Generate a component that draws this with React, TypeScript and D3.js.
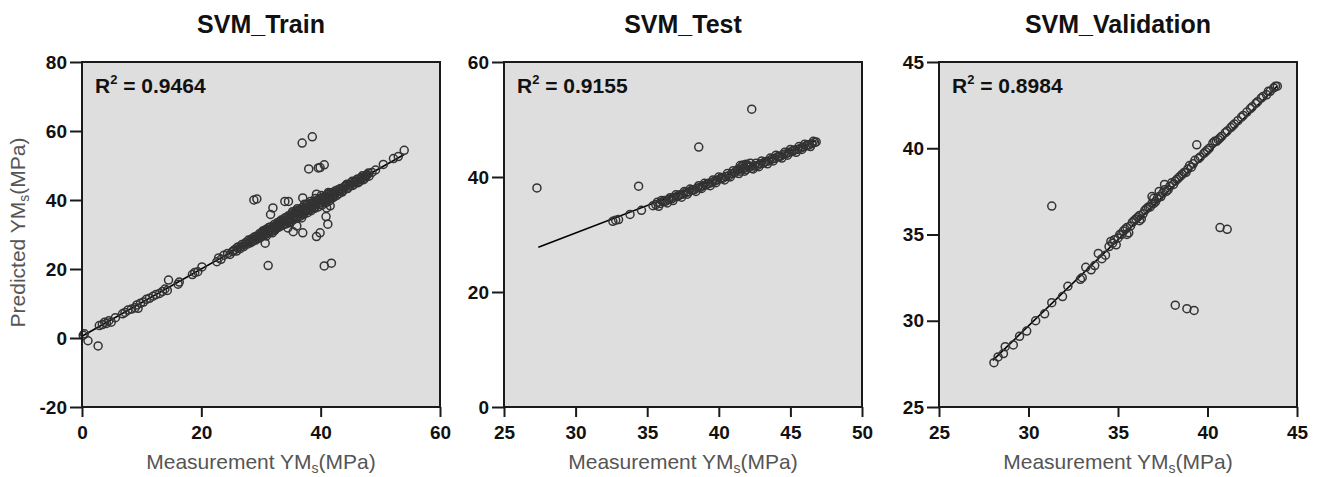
import React, { useEffect, useRef } from "react";
import * as d3 from "d3";

const WIDTH = 1322;
const HEIGHT = 477;
const PLOT_TOP = 62;
const PLOT_H = 345;
const PLOT_W = 358;
const FONT = "'Liberation Sans', Arial, Helvetica, sans-serif";

const titles = ["SVM_Train", "SVM_Test", "SVM_Validation"];
const r2Values = ["0.9464", "0.9155", "0.8984"];
const plotLefts = [82, 504, 939];

const xDomains: [number, number][] = [[0, 60], [25, 50], [25, 45]];
const yDomains: [number, number][] = [[-20, 80], [0, 60], [25, 45]];
const xTicks = [[0, 20, 40, 60], [25, 30, 35, 40, 45, 50], [25, 30, 35, 40, 45]];
const yTicks = [[-20, 0, 20, 40, 60, 80], [0, 20, 40, 60], [25, 30, 35, 40, 45]];

// fitted lines [x, y] start and end
const trainFit = [[0, 0.5], [54, 53.2]];
const testFit = [[27.4, 27.8], [46.8, 46.3]];
const validFit = [[28.0, 27.7], [43.9, 43.6]];

const trainPoints = [
  [0.2, 0.8], [0.4, 1.2], [1.0, -0.8], [2.7, -2.3], [2.9, 3.6], [3.4, 3.9], [3.8, 4.6], [4.1, 4.2],
  [4.5, 5.0], [4.9, 4.6], [5.6, 5.9], [6.8, 7.0], [7.2, 7.4], [7.7, 8.1], [8.3, 8.4], [8.9, 8.8],
  [9.2, 9.6], [9.4, 8.6], [9.8, 10.1], [10.3, 10.4], [10.8, 11.2], [11.3, 11.5], [11.9, 12.1],
  [12.4, 12.6], [13.0, 12.9], [13.5, 13.5], [13.9, 14.2], [14.3, 13.8], [14.5, 16.8], [16.1, 15.6],
  [16.3, 16.2], [18.5, 18.4], [18.9, 19.0], [19.4, 19.2], [20.1, 20.6], [22.6, 22.1], [22.9, 23.2],
  [23.3, 22.8], [23.8, 24.0], [24.4, 24.5],
  [25.2, 25.0], [25.6, 25.6], [25.9, 25.2], [26.2, 26.4], [26.5, 25.9], [26.8, 27.1], [27.1, 26.5],
  [27.4, 27.6], [27.7, 27.2], [27.9, 28.4], [28.2, 27.6], [28.4, 28.7], [28.6, 28.0], [28.9, 29.3],
  [29.1, 28.4], [29.3, 29.6], [29.6, 28.9], [29.8, 30.3], [30.0, 29.2], [30.2, 30.6], [30.4, 29.7],
  [30.6, 31.2], [30.8, 30.0], [31.0, 31.6], [31.2, 30.4], [31.4, 31.0], [31.6, 32.2], [31.8, 30.9],
  [32.0, 31.9], [32.2, 32.9], [32.4, 31.5], [32.6, 32.6], [32.8, 33.5], [33.0, 32.1], [33.2, 33.1],
  [33.4, 34.2], [33.6, 32.7], [33.8, 33.8], [34.0, 34.8], [34.2, 33.1], [34.4, 34.3], [34.6, 35.4],
  [34.8, 33.8], [35.0, 34.9], [35.2, 36.0], [35.4, 34.2], [35.6, 35.5], [35.8, 36.8], [36.0, 34.7],
  [36.2, 36.0], [36.4, 37.2], [36.6, 35.3], [36.8, 36.7], [37.0, 37.9], [37.2, 35.9], [37.4, 37.1],
  [37.6, 38.4], [37.8, 36.3], [38.0, 37.6], [38.2, 38.9], [38.4, 36.9], [38.6, 38.1], [38.8, 39.4],
  [39.0, 37.6], [39.2, 38.6], [39.4, 39.9], [39.6, 38.0], [39.8, 39.2], [40.0, 40.5], [40.2, 38.5],
  [40.4, 39.8], [40.6, 41.0], [40.8, 39.1], [41.0, 40.4], [41.2, 41.6], [41.4, 39.7], [41.6, 40.9],
  [41.8, 42.1], [42.0, 40.6], [42.2, 41.6], [42.4, 42.6], [42.7, 41.3], [43.0, 42.5], [43.3, 43.3],
  [43.6, 42.3], [43.9, 43.5], [44.2, 44.2], [44.5, 43.3], [44.8, 44.3], [45.1, 45.0], [45.4, 44.2],
  [45.7, 45.1], [46.0, 45.8], [46.3, 45.0], [46.6, 45.9], [46.9, 46.6], [47.2, 45.9], [47.5, 46.8],
  [47.8, 47.4], [48.1, 46.9],
  [30.5, 30.1], [31.5, 31.3], [32.5, 32.2], [33.5, 33.3], [34.5, 34.0], [35.5, 35.1], [36.5, 36.1],
  [37.5, 36.9], [38.5, 37.9], [39.5, 38.9], [40.5, 40.1], [41.5, 41.2], [35.3, 36.6], [36.1, 37.5],
  [37.3, 38.8], [38.3, 39.6], [39.1, 40.4], [40.1, 41.3], [41.3, 42.2],
  [30.1, 29.8], [30.3, 31.0], [30.7, 30.6], [30.9, 29.6], [31.1, 31.0], [31.3, 32.0], [31.7, 31.5],
  [31.9, 30.5], [32.1, 32.3], [32.3, 31.2], [32.7, 32.0], [32.9, 32.9], [33.1, 33.7], [33.3, 32.5],
  [33.7, 33.9], [33.9, 32.9], [34.1, 34.1], [34.3, 35.0], [34.7, 34.6], [34.9, 33.4], [35.1, 35.5],
  [35.3, 34.6], [35.7, 36.1], [35.9, 35.0], [36.3, 36.6], [36.7, 35.8], [36.9, 37.3], [37.1, 36.3],
  [37.5, 37.6], [37.7, 38.8], [37.9, 37.1], [38.1, 37.0], [38.3, 38.3], [38.7, 39.0], [38.9, 37.9],
  [39.3, 39.3], [39.7, 40.2], [39.9, 38.7], [40.3, 40.6], [40.7, 39.6], [40.9, 40.9], [41.1, 39.8],
  [41.5, 42.0], [41.7, 40.4], [42.1, 41.9], [42.3, 41.0], [42.5, 42.2], [42.9, 43.0], [43.1, 41.9],
  [43.5, 43.0], [43.8, 42.8], [44.0, 43.9], [44.4, 44.6], [44.7, 43.8], [45.0, 44.5], [45.3, 45.4],
  [45.6, 44.6], [45.9, 45.3], [46.2, 46.1], [46.5, 45.4], [46.8, 46.2], [47.0, 47.0], [47.4, 46.3],
  [47.7, 47.0], [48.0, 47.8], [26.0, 26.2], [26.6, 26.4], [27.2, 27.1], [27.8, 27.8], [28.3, 28.2],
  [28.8, 28.6], [29.4, 29.1], [29.9, 29.8], [25.4, 25.3], [24.8, 24.2],
  [48.6, 48.0], [49.2, 48.7], [50.5, 50.3], [52.2, 52.0], [53.0, 52.6], [54.0, 54.4],
  // off-line points
  [36.9, 56.5], [38.6, 58.3], [38.0, 49.0], [39.6, 49.3], [39.9, 49.4], [40.6, 50.2], [28.8, 40.0],
  [29.3, 40.3], [31.6, 35.8], [32.0, 37.7], [34.0, 39.6], [34.6, 39.6], [37.0, 40.6], [39.3, 41.7],
  [41.0, 37.7], [41.6, 38.3], [40.9, 35.2], [41.2, 33.0], [36.8, 34.8], [36.0, 32.5], [35.4, 30.8],
  [37.0, 30.5], [34.5, 31.9], [30.7, 27.5], [31.2, 21.0], [40.6, 20.9], [41.8, 21.7], [39.3, 29.4],
  [39.9, 30.5],
];

const testPoints = [
  [27.3, 38.1], [34.4, 38.4], [38.6, 45.2], [42.3, 51.8],
  [32.6, 32.3], [32.8, 32.5], [33.0, 32.6], [33.8, 33.5], [34.6, 34.2], [35.4, 35.0], [35.6, 35.2],
  [35.9, 35.4], [36.1, 35.7], [36.3, 35.8], [36.5, 36.1], [36.7, 36.2], [36.9, 36.5], [37.1, 36.6],
  [37.3, 36.9], [37.5, 37.0], [37.7, 37.3], [37.9, 37.4], [38.1, 37.7], [38.3, 37.8], [38.5, 38.1],
  [38.7, 38.2], [38.9, 38.5], [39.1, 38.6], [39.3, 38.9], [39.5, 39.0], [39.7, 39.3], [39.9, 39.5],
  [40.1, 39.7], [40.3, 39.8], [40.5, 40.1], [40.7, 40.2], [40.9, 40.6], [41.1, 40.7], [41.3, 41.2],
  [41.5, 41.0], [41.7, 41.5], [41.9, 41.3], [42.1, 41.7], [42.3, 41.5], [42.5, 41.9], [42.7, 42.0],
  [42.9, 42.3], [43.1, 42.4], [43.3, 42.7], [43.5, 42.8], [43.7, 43.1], [43.9, 43.2], [44.1, 43.5],
  [44.3, 43.6], [44.5, 43.9], [44.7, 44.0], [44.9, 44.3], [45.1, 44.4], [45.3, 44.7], [45.5, 44.8],
  [45.7, 45.0], [45.9, 45.2], [46.1, 45.4], [46.3, 45.6], [46.5, 45.8], [46.7, 46.0], [46.8, 46.1],
  [36.2, 35.9], [37.2, 36.8], [38.2, 37.8], [39.2, 38.8], [40.2, 39.9], [41.2, 41.0], [42.2, 41.8],
  [43.2, 42.6], [44.2, 43.6], [45.2, 44.6], [46.2, 45.6], [41.4, 41.4], [41.8, 41.6], [42.0, 41.9],
  [35.7, 35.6], [35.8, 34.9], [36.0, 35.9], [36.4, 35.5], [36.6, 36.4], [36.8, 35.9], [37.0, 36.9],
  [37.4, 36.5], [37.6, 37.5], [37.8, 37.0], [38.0, 37.9], [38.4, 37.5], [38.6, 38.5], [38.8, 38.0],
  [39.0, 38.9], [39.4, 38.5], [39.6, 39.5], [39.8, 39.0], [40.0, 40.0], [40.4, 39.5], [40.6, 40.6],
  [40.8, 40.0], [41.0, 41.1], [41.4, 40.6], [41.6, 41.8], [41.8, 41.0], [42.0, 42.1], [42.4, 41.4],
  [42.6, 42.4], [42.8, 41.8], [43.0, 42.8], [43.4, 42.3], [43.6, 43.3], [43.8, 42.8], [44.0, 43.8],
  [44.4, 43.3], [44.6, 44.3], [44.8, 43.8], [45.0, 44.8], [45.4, 44.3], [45.6, 45.3], [45.8, 44.8],
  [46.0, 45.7], [46.4, 45.3], [46.6, 46.2], [41.5, 42.0], [41.9, 42.2], [42.2, 42.4], [41.7, 42.1],
];

const validPoints = [
  [31.3, 36.65], [39.4, 40.2], [40.7, 35.4], [41.1, 35.3], [38.2, 30.9], [38.85, 30.7], [39.25, 30.6],
  [28.07, 27.57], [28.3, 27.9], [28.6, 28.1], [28.7, 28.5], [29.15, 28.6], [29.5, 29.1], [29.9, 29.4],
  [30.4, 30.0], [30.9, 30.4], [31.3, 31.05], [31.9, 31.4], [32.2, 32.0], [32.9, 32.4], [33.0, 32.5],
  [33.2, 33.1], [33.5, 32.95], [33.7, 33.2], [33.9, 33.9], [34.1, 33.6], [34.3, 33.8], [34.5, 34.3],
  [34.7, 34.5], [34.9, 34.4], [35.1, 35.0], [35.3, 35.2], [35.5, 35.4], [35.6, 35.1], [35.8, 35.7],
  [36.0, 35.9], [36.2, 36.1], [36.3, 35.9], [36.5, 36.4], [36.7, 36.6], [36.9, 36.8], [37.0, 37.1],
  [37.1, 36.9], [37.3, 37.2], [37.5, 37.4], [37.6, 37.6], [37.8, 37.6], [38.0, 38.0], [38.2, 38.1],
  [38.4, 38.3], [38.6, 38.5], [38.8, 38.6], [39.0, 39.0], [39.2, 39.1], [39.5, 39.4], [39.8, 39.7],
  [40.0, 39.9], [40.3, 40.3], [40.5, 40.4], [40.7, 40.6], [41.0, 40.9], [41.3, 41.2], [41.5, 41.4],
  [41.9, 41.8], [42.2, 42.1], [42.5, 42.4], [42.8, 42.7], [43.0, 42.9], [43.3, 43.1], [43.5, 43.3],
  [43.7, 43.5], [43.9, 43.6],
  [34.6, 34.6], [34.8, 34.7], [35.0, 34.8], [35.2, 35.0], [35.4, 35.3], [35.7, 35.5], [35.9, 35.8],
  [36.1, 36.0], [36.4, 36.2], [36.6, 36.5], [36.8, 36.6], [37.0, 36.8], [37.2, 37.1], [37.4, 37.2],
  [37.7, 37.5], [37.9, 37.8], [38.1, 37.9], [38.3, 38.2], [38.5, 38.4], [38.7, 38.6], [38.9, 38.8],
  [39.1, 38.9], [39.3, 39.3], [39.6, 39.5], [39.9, 39.8], [40.1, 40.0], [40.4, 40.4], [40.6, 40.5],
  [40.8, 40.7], [41.1, 41.0], [41.4, 41.3], [41.7, 41.6], [42.0, 41.9], [42.4, 42.3], [42.7, 42.6],
  [43.1, 43.0], [43.4, 43.3], [43.8, 43.6], [36.9, 37.2], [37.3, 37.5], [37.6, 37.9], [35.5, 35.0],
  [36.2, 35.8],
];

const allPoints = [trainPoints, testPoints, validPoints];
const allFits = [trainFit, testFit, validFit];

type PanelProps = { idx: number };

const Panel = ({ idx }: PanelProps) => {
  const left = plotLefts[idx];
  const xScale = d3.scaleLinear().domain(xDomains[idx]).range([0, PLOT_W]);
  const yScale = d3.scaleLinear().domain(yDomains[idx]).range([PLOT_H, 0]);
  const axesRef = useRef<SVGGElement>(null);

  useEffect(() => {
    const g = d3.select(axesRef.current);
    g.selectAll("*").remove();

    const xAxis = g.append("g")
      .attr("transform", `translate(0,${PLOT_H})`)
      .call(d3.axisBottom(xScale).tickValues(xTicks[idx]).tickSize(10).tickPadding(9).tickFormat(d => String(d)));
    xAxis.select(".domain").remove();
    xAxis.selectAll("line").attr("stroke", "#1a1a1a").attr("stroke-width", 2);
    xAxis.selectAll("text").style("font-family", FONT).style("font-size", "19px").style("font-weight", "bold").style("fill", "#111");

    const yAxis = g.append("g")
      .call(d3.axisLeft(yScale).tickValues(yTicks[idx]).tickSize(12).tickPadding(3).tickFormat(d => String(d)));
    yAxis.select(".domain").remove();
    yAxis.selectAll("line").attr("stroke", "#1a1a1a").attr("stroke-width", 2);
    yAxis.selectAll("text").style("font-family", FONT).style("font-size", "19px").style("font-weight", "bold").style("fill", "#111");
  }, [idx]);

  const line = d3.line<number[]>().x(d => xScale(d[0])).y(d => yScale(d[1]));

  return (
    <g transform={`translate(${left},${PLOT_TOP})`}>
      <text x={PLOT_W / 2} y={-29} textAnchor="middle" fontFamily={FONT} fontSize={25} fontWeight="bold" fill="#111">
        {titles[idx]}
      </text>
      <rect x={0} y={0} width={PLOT_W} height={PLOT_H} fill="#dedede" />
      <path d={line(allFits[idx]) || ""} stroke="#000" strokeWidth={1.6} fill="none" />
      {allPoints[idx].map((p, i) => (
        <circle key={i} cx={xScale(p[0])} cy={yScale(p[1])} r={4} fill="none" stroke="#333" strokeWidth={1.5} />
      ))}
      <rect x={0} y={0} width={PLOT_W} height={PLOT_H} fill="none" stroke="#1a1a1a" strokeWidth={2} />
      <text x={13} y={31} fontFamily={FONT} fontSize={21} fontWeight="bold" fill="#111">
        R<tspan fontSize={13} dy={-9}>2</tspan><tspan dy={9}> = {r2Values[idx]}</tspan>
      </text>
      <g ref={axesRef}></g>
      <text x={PLOT_W / 2} y={PLOT_H + 62} textAnchor="middle" fontFamily={FONT} fontSize={21} fill="#555">
        Measurement YM<tspan fontSize={14} dy={4}>s</tspan><tspan dy={-4}>(MPa)</tspan>
      </text>
      {idx === 0 && (
        <text transform={`translate(${-57},${PLOT_H / 2 - 2}) rotate(-90)`} textAnchor="middle" fontFamily={FONT} fontSize={21} fill="#555">
          Predicted YM<tspan fontSize={14} dy={4}>s</tspan><tspan dy={-4}>(MPa)</tspan>
        </text>
      )}
    </g>
  );
};

export default function App() {
  return (
    <svg width={WIDTH} height={HEIGHT} style={{ position: "absolute", left: 0, top: 0, background: "#fff" }}>
      {titles.map((_, i) => <Panel key={i} idx={i} />)}
    </svg>
  );
}
